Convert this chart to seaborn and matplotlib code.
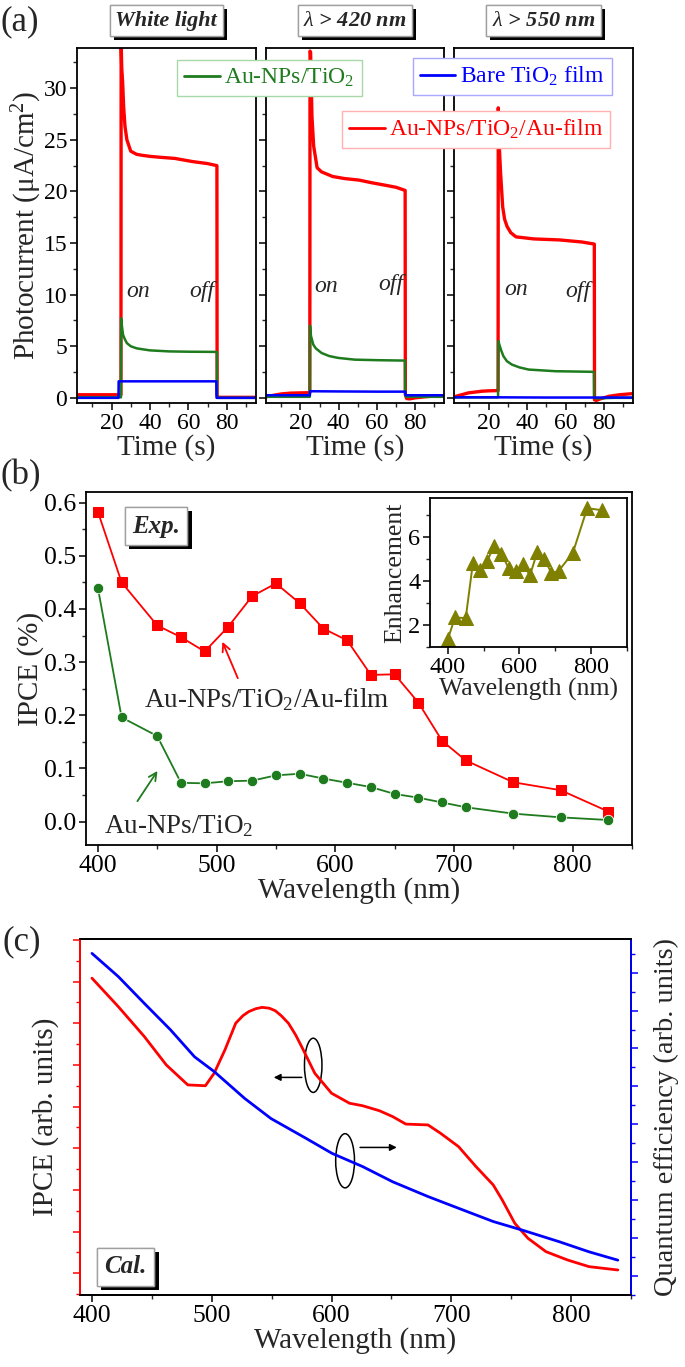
import numpy as np
import pandas as pd
import matplotlib
matplotlib.use('Agg')
import matplotlib.pyplot as plt
import matplotlib.patheffects as pe
from matplotlib.patches import Ellipse
from matplotlib.lines import Line2D
from matplotlib.ticker import MultipleLocator, FormatStrFormatter
import seaborn as sns

# ---------------- DATA ----------------
# Panel (a): photocurrent transients (time in s, current in uA/cm2)
t_wl_red = [2, 10, 20, 24.9, 25.0, 25.3, 25.8, 26.3, 27, 28, 30, 33, 36, 40, 46, 53, 62, 70, 74.9, 75.0, 75.3, 80, 90, 95]
i_wl_red = [0.3, 0.3, 0.3, 0.3, 34.5, 32.0, 30.5, 28.2, 26.3, 25.0, 23.9, 23.6, 23.5, 23.4, 23.3, 23.2, 22.9, 22.7, 22.5, 0.3, 0.05, 0.05, 0.05, 0.05]
t_wl_green = [2, 10, 20, 24.9, 25.0, 25.5, 26, 27, 28, 30, 33, 35, 40, 50, 60, 74.9, 75.0, 75.3, 85, 95]
i_wl_green = [0.05, 0.05, 0.05, 0.05, 7.7, 6.8, 6.1, 5.65, 5.3, 5.0, 4.8, 4.74, 4.6, 4.5, 4.47, 4.45, 0.3, 0.0, 0.0, 0.0]
t_wl_blue = [2, 10, 20, 23.6, 23.7, 40, 60, 74.6, 74.7, 85, 95]
i_wl_blue = [0.0, 0.0, 0.0, 0.0, 1.6, 1.6, 1.6, 1.6, 0.0, 0.0, 0.0]

t_420_red = [2, 6, 10, 15, 20, 24.9, 25.0, 25.3, 26, 26.9, 28.7, 31, 36.8, 43, 50.6, 57, 64.4, 70, 74.7, 74.8, 75.5, 77, 80, 85, 90, 95]
i_420_red = [0.1, 0.25, 0.38, 0.46, 0.48, 0.5, 33.6, 33.5, 27.3, 24.4, 22.3, 21.9, 21.45, 21.25, 21.1, 20.85, 20.6, 20.4, 20.1, 0.3, -0.07, -0.1, 0.0, 0.1, 0.18, 0.22]
t_420_green = [2, 10, 20, 24.9, 25.0, 25.5, 26.7, 28, 31, 35, 39.7, 48.4, 60, 74.6, 74.7, 75.2, 85, 95]
i_420_green = [0.1, 0.1, 0.1, 0.1, 7.0, 6.0, 5.16, 4.8, 4.35, 4.05, 3.87, 3.7, 3.65, 3.61, 0.3, 0.1, 0.1, 0.1]
t_420_blue = [2, 10, 20, 24.9, 25.0, 40, 60, 74.8, 74.9, 85, 95]
i_420_blue = [0.25, 0.25, 0.25, 0.25, 0.64, 0.62, 0.6, 0.6, 0.25, 0.25, 0.25]

t_550_red = [2, 5, 9.5, 16.4, 20, 24.9, 25.0, 25.5, 26.2, 27.3, 28.3, 29.6, 31.5, 34.2, 43.4, 57, 68.5, 74.9, 75.0, 76, 78, 82.5, 88, 95]
i_550_red = [0.1, 0.25, 0.48, 0.64, 0.68, 0.7, 28.1, 24.5, 21.8, 18.5, 17.3, 16.6, 16.0, 15.6, 15.4, 15.3, 15.1, 14.9, -0.2, -0.25, -0.1, 0.15, 0.3, 0.41]
t_550_green = [2, 10, 20, 24.9, 25.0, 25.5, 26.5, 27.7, 29.5, 32.1, 36, 40.8, 54.7, 74.7, 74.8, 76, 85, 95]
i_550_green = [0.05, 0.05, 0.05, 0.05, 5.5, 5.2, 4.6, 4.03, 3.55, 3.22, 2.95, 2.74, 2.58, 2.52, 0.0, -0.05, 0.0, 0.0]
t_550_blue = [2, 25, 50, 75, 95]
i_550_blue = [0.05, 0.05, 0.03, 0.03, 0.03]

panel_titles = ['White light', r'$\lambda$ > 420 nm', r'$\lambda$ > 550 nm']

# Panel (b): measured IPCE
wl_exp = [400, 420, 450, 470, 490, 510, 530, 550, 570, 590, 610, 630, 650, 670, 690, 710, 750, 790, 830]
ipce_film = [0.583, 0.45, 0.369, 0.347, 0.320, 0.367, 0.424, 0.448, 0.411, 0.363, 0.341, 0.276, 0.277, 0.224, 0.152, 0.115, 0.074, 0.059, 0.019]
ipce_nps = [0.44, 0.196, 0.161, 0.073, 0.072, 0.076, 0.077, 0.087, 0.090, 0.081, 0.073, 0.065, 0.052, 0.045, 0.036, 0.027, 0.015, 0.008, 0.003]
enhancement = [1.37, 2.35, 2.32, 4.8, 4.5, 4.9, 5.6, 5.24, 4.58, 4.45, 4.75, 4.26, 5.3, 5.0, 4.35, 4.45, 5.28, 7.29, 7.2]

# Panel (c): calculated curves (arbitrary units)
wl_cal_red = [400, 421.9, 443.7, 462, 480, 494.7, 502, 511, 520, 526, 531, 537, 542, 548, 553, 558, 564, 570, 575, 586, 600, 615, 626, 640, 651, 662, 680.5, 691, 706, 720.6, 735, 742.5, 753, 764, 779, 797, 815, 839]
ipce_cal = [7.08, 6.4, 5.68, 5.0, 4.52, 4.5, 4.8, 5.36, 6.0, 6.18, 6.28, 6.35, 6.38, 6.36, 6.3, 6.18, 6.0, 5.72, 5.44, 4.8, 4.32, 4.08, 4.02, 3.9, 3.76, 3.58, 3.56, 3.36, 3.04, 2.56, 2.12, 1.76, 1.2, 0.84, 0.52, 0.32, 0.16, 0.08]
wl_cal_blue = [400, 421.9, 443.7, 465.6, 485.6, 502, 527.5, 549.4, 578.5, 600.4, 626, 651, 680.5, 706, 735, 760.6, 789.8, 815, 839]
qe_cal = [8.51, 7.9, 7.19, 6.49, 5.78, 5.39, 4.68, 4.15, 3.63, 3.23, 2.88, 2.48, 2.09, 1.78, 1.43, 1.19, 0.9, 0.63, 0.41]

# ---------------- STYLE ----------------
sns.set_theme(style='ticks')
plt.rcParams['font.family'] = ['Liberation Serif', 'DejaVu Serif']
plt.rcParams['mathtext.fontset'] = 'custom'
plt.rcParams['mathtext.rm'] = 'Liberation Serif'
plt.rcParams['mathtext.it'] = 'Liberation Serif:italic'
plt.rcParams['mathtext.bf'] = 'Liberation Serif:bold:italic'
plt.rcParams['axes.linewidth'] = 1.3
plt.rcParams['axes.edgecolor'] = 'black'

RED = '#ff0000'
GREEN = '#1e7b1e'
BLUE = '#0000ff'
OLIVE = '#7f7f00'

TICK = 18.5
LAB = 21

W, H = 685, 1367
fig = plt.figure(figsize=(W / 100, H / 100), dpi=100)


def rect(x0, x1, y0, y1):
    return [x0 / W, 1 - y1 / H, (x1 - x0) / W, (y1 - y0) / H]


def style_ticks(ax, size=TICK):
    ax.tick_params(which='major', direction='out', length=5, width=1.1, labelsize=size, colors='black', pad=2)
    ax.tick_params(which='minor', direction='out', length=3, width=1.0)


def shadow_box(ax, x, y, txt, size, transform, pad=0.3):
    t = ax.text(x, y, txt, transform=transform, ha='center', va='center', fontsize=size,
                fontweight='bold', fontstyle='italic', zorder=10,
                bbox=dict(boxstyle='square,pad=%g' % pad, fc='white', ec='#a0a0a0', lw=1.0))
    t.get_bbox_patch().set_path_effects([pe.withSimplePatchShadow(offset=(3, -3), shadow_rgbFace='black', alpha=1.0), pe.Normal()])
    return t

# ---------------- PANEL (a) ----------------
a_rects = [rect(77, 255.5, 48, 403), rect(266, 444, 48, 403), rect(454, 633, 48, 403)]
series_a = [
    (t_wl_blue, i_wl_blue, t_wl_green, i_wl_green, t_wl_red, i_wl_red),
    (t_420_blue, i_420_blue, t_420_green, i_420_green, t_420_red, i_420_red),
    (t_550_blue, i_550_blue, t_550_green, i_550_green, t_550_red, i_550_red),
]
onoff = [((33.7, 10.3), (67.0, 10.3)), ((33.3, 10.8), (67.4, 11.0)), ((34.2, 10.5), (66.3, 10.3))]
for k, (r, s) in enumerate(zip(a_rects, series_a)):
    ax = fig.add_axes(r)
    tb, ib, tg, ig, tr, ir = s
    sns.lineplot(x=tr, y=ir, ax=ax, color=RED, lw=2.4, estimator=None, sort=False)
    sns.lineplot(x=tg, y=ig, ax=ax, color=GREEN, lw=1.8, estimator=None, sort=False)
    sns.lineplot(x=tb, y=ib, ax=ax, color=BLUE, lw=1.8, estimator=None, sort=False)
    ax.set_xlim(2, 95)
    ax.set_ylim(-0.5, 33.9)
    ax.xaxis.set_major_locator(MultipleLocator(20))
    ax.xaxis.set_minor_locator(MultipleLocator(10))
    ax.yaxis.set_major_locator(MultipleLocator(5))
    ax.yaxis.set_minor_locator(MultipleLocator(2.5))
    style_ticks(ax, 17)
    ax.set_xticks([20, 40, 60, 80])
    ax.set_xlabel('Time (s)', fontsize=LAB, labelpad=0)
    if k == 0:
        ax.set_ylabel(r'Photocurrent ($\mathregular{\mu}$A/cm$^\mathregular{2}$)', fontsize=LAB, labelpad=0)
    else:
        ax.set_ylabel('')
        ax.tick_params(labelleft=False)
    (x1, y1), (x2, y2) = onoff[k]
    ax.text(x1, y1, 'on', fontsize=17, fontstyle='italic', ha='center', va='center')
    ax.text(x2, y2, 'off', fontsize=17, fontstyle='italic', ha='center', va='center')
    shadow_box(ax, 0.5, 1.077, panel_titles[k], 16, ax.transAxes, pad=0.25)

# legends of panel (a)
def fig_legend(color, label, x, y, ec):
    h = Line2D([], [], color=color, lw=2)
    lg = fig.legend([h], [label], loc='upper left', bbox_to_anchor=(x / W, 1 - y / H),
                    frameon=True, fancybox=False, edgecolor=ec, framealpha=1, fontsize=17,
                    handlelength=1.5, handletextpad=0.2, borderpad=0.3, borderaxespad=0,
                    labelcolor=color)
    lg.get_frame().set_linewidth(1.0)
    lg.set_zorder(20)

fig_legend(GREEN, r'Au-NPs/TiO$_\mathregular{2}$', 177, 60, '#a8d8a8')
fig_legend(BLUE, r'Bare TiO$_\mathregular{2}$ film', 413, 58, '#a8a8ff')
fig_legend(RED, r'Au-NPs/TiO$_\mathregular{2}$/Au-film', 342, 111, '#ffb0b0')

fig.text(0 / W, 1 - 22 / H, '(a)', fontsize=25, ha='left', va='center')

# ---------------- PANEL (b) ----------------
axb = fig.add_axes(rect(86, 632, 492, 845))
df_b = pd.DataFrame({'wl': wl_exp, 'film': ipce_film, 'nps': ipce_nps, 'enh': enhancement})
sns.lineplot(data=df_b, x='wl', y='film', ax=axb, color=RED, lw=1.3, marker='s', markersize=7,
             markeredgecolor=RED, estimator=None)
sns.lineplot(data=df_b, x='wl', y='nps', ax=axb, color=GREEN, lw=1.3, marker='o', markersize=7.5,
             markeredgecolor='white', markeredgewidth=0.6, estimator=None)
axb.set_xlim(390, 850)
axb.set_ylim(-0.044, 0.62)
axb.xaxis.set_major_locator(MultipleLocator(100))
axb.xaxis.set_minor_locator(MultipleLocator(50))
axb.yaxis.set_major_locator(MultipleLocator(0.1))
axb.yaxis.set_minor_locator(MultipleLocator(0.05))
axb.yaxis.set_major_formatter(FormatStrFormatter('%.1f'))
style_ticks(axb)
axb.set_xlabel('Wavelength (nm)', fontsize=LAB, labelpad=0)
axb.set_ylabel('IPCE (%)', fontsize=LAB, labelpad=0)
axb.annotate('', xy=(504, 0.343), xytext=(518.8, 0.265),
             arrowprops=dict(arrowstyle='->', color=RED, lw=1.3, mutation_scale=14))
axb.text(542.6, 0.23, r'Au-NPs/TiO$_\mathregular{2}$/Au-film', fontsize=19.5, ha='center', va='center')
axb.annotate('', xy=(451.5, 0.0997), xytext=(432, 0.034),
             arrowprops=dict(arrowstyle='->', color=GREEN, lw=1.3, mutation_scale=14))
axb.text(404.8, -0.009, r'Au-NPs/TiO$_\mathregular{2}$', fontsize=19.5, ha='left', va='center')
shadow_box(axb, 449, 0.556, 'Exp.', 18, axb.transData)
fig.text(0 / W, 1 - 476 / H, '(b)', fontsize=25, ha='left', va='center')

# inset
axi = axb.inset_axes([0.63, 0.56, 0.36, 0.423])
sns.lineplot(data=df_b, x='wl', y='enh', ax=axi, color=OLIVE, lw=1.4, marker='^', markersize=10,
             markeredgecolor=OLIVE, estimator=None)
axi.set_xlim(350, 900)
axi.set_ylim(1.0, 7.75)
axi.xaxis.set_major_locator(MultipleLocator(200))
axi.xaxis.set_minor_locator(MultipleLocator(100))
axi.yaxis.set_major_locator(MultipleLocator(2))
axi.yaxis.set_minor_locator(MultipleLocator(1))
style_ticks(axi, 17.5)
axi.set_xlabel('Wavelength (nm)', fontsize=18.5, labelpad=0)
axi.set_ylabel('Enhancement', fontsize=18.5, labelpad=1)
axi.patch.set_facecolor('white')

# ---------------- PANEL (c) ----------------
axc = fig.add_axes(rect(80, 631, 939, 1295))
sns.lineplot(x=wl_cal_red, y=ipce_cal, ax=axc, color=RED, lw=2.0, estimator=None)
axc.set_xlim(390, 850)
axc.set_ylim(-0.52, 8.02)
axc.xaxis.set_major_locator(MultipleLocator(100))
axc.xaxis.set_minor_locator(MultipleLocator(50))
axc.yaxis.set_major_locator(MultipleLocator(1))
axc.yaxis.set_minor_locator(MultipleLocator(0.5))
style_ticks(axc)
axc.tick_params(axis='y', which='both', colors=RED, labelleft=False)
axc.spines['left'].set_color(RED)
axc.set_xlabel('Wavelength (nm)', fontsize=LAB, labelpad=0)
axc.set_ylabel('IPCE (arb. units)', fontsize=21, labelpad=10)

axc2 = axc.twinx()
sns.lineplot(x=wl_cal_blue, y=qe_cal, ax=axc2, color=BLUE, lw=2.0, estimator=None)
axc2.set_ylim(-0.51, 8.89)
axc2.yaxis.set_major_locator(MultipleLocator(1))
axc2.yaxis.set_minor_locator(MultipleLocator(0.5))
axc2.tick_params(axis='y', which='major', direction='out', length=5, width=1.1, colors=BLUE, labelright=False)
axc2.tick_params(axis='y', which='minor', direction='out', length=3, width=1.0, colors=BLUE)
axc2.spines['right'].set_color(BLUE)
axc2.spines['left'].set_color(RED)
axc2.set_ylabel('Quantum efficiency (arb. units)', fontsize=20.5, labelpad=10)
axc2.set_xlim(390, 850)

axc.add_patch(Ellipse((584.7, 4.99), 14.6, 1.3, fill=False, ec='black', lw=1.1))
axc.annotate('', xy=(549.4, 4.7), xytext=(577.5, 4.7),
             arrowprops=dict(arrowstyle='-|>', color='black', lw=1.1, mutation_scale=10))
axc.add_patch(Ellipse((611.3, 2.70), 15.7, 1.3, fill=False, ec='black', lw=1.1))
axc.annotate('', xy=(656.8, 3.02), xytext=(621.5, 3.02),
             arrowprops=dict(arrowstyle='-|>', color='black', lw=1.1, mutation_scale=10))
shadow_box(axc, 0.083, 0.08, 'Cal.', 18, axc.transAxes)
fig.text(3 / W, 1 - 942 / H, '(c)', fontsize=25, ha='left', va='center')

fig.savefig('out.png', dpi=100)
